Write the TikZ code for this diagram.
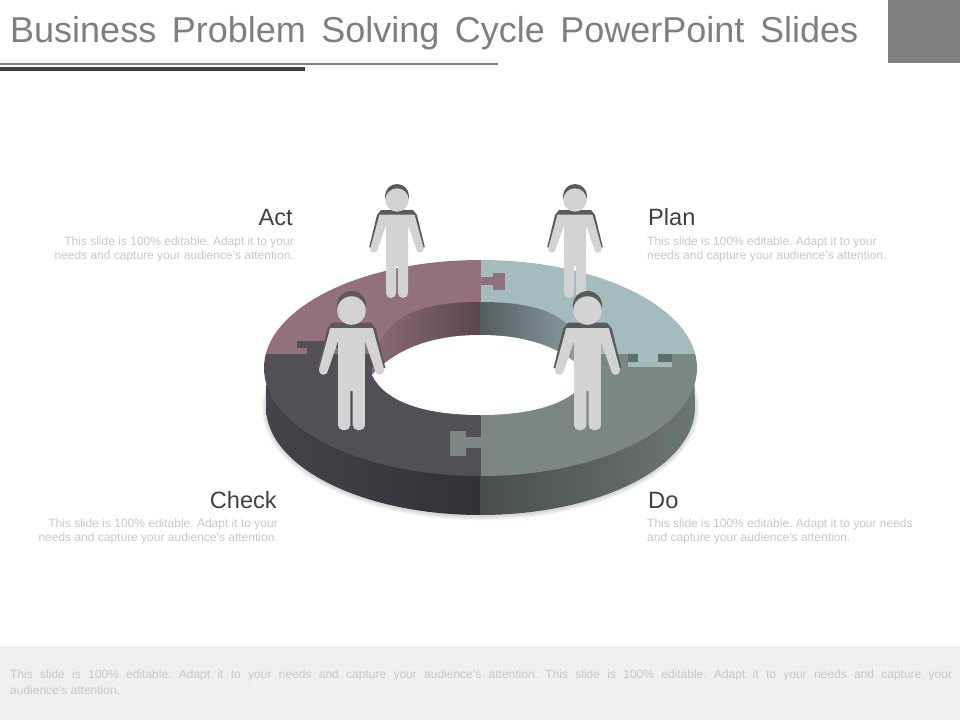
\documentclass[tikz,border=0pt]{standalone}
\usepackage{fontspec}
\setmainfont{Liberation Sans}
\definecolor{titlegrey}{HTML}{7F7F7F}
\definecolor{labelgrey}{HTML}{404040}
\definecolor{smallgrey}{HTML}{C8C8C8}
\definecolor{bandgrey}{HTML}{F0F0F0}
\definecolor{actc}{HTML}{93717A}
\definecolor{planc}{HTML}{A5BCBF}
\definecolor{checkc}{HTML}{524F57}
\definecolor{doc}{HTML}{7B8783}
\definecolor{personc}{HTML}{D3D3D3}
\definecolor{persond}{HTML}{5A5A5A}
\tikzset{
  titletext/.style={anchor=base west,inner sep=0pt,text=titlegrey,font=\fontsize{36}{36}\selectfont},
  labeltext/.style={inner sep=0pt,text=labelgrey,font=\fontsize{23.6}{24}\selectfont},
  smalltext/.style={inner sep=0pt,text=smallgrey,font=\fontsize{12}{12}\selectfont\frenchspacing},
  lightpart/.style={fill=personc,draw=none},
  darkpart/.style={fill=persond,draw=none}
}
\newcommand{\personfig}[3]{%
  \begin{scope}[shift={(#1,#2)},scale=#3]
    \fill[darkpart] (0,12) circle (12);
    \fill[darkpart] (-16,26) -- (16,26) -- (20,31) -- (27.8,63) -- (25,64) -- (17,33) -- (-17,33) -- (-25,64) -- (-27.8,63) -- (-20,31) -- cycle;
    \fill[lightpart] (0,16) circle (11.7);
    \fill[lightpart] (-17.5,30.5) -- (17.5,30.5) -- (26.6,64) -- (19.6,66) -- (11,41) -- (11,82) -- (-11,82) -- (-11,41) -- (-19.6,66) -- (-26.6,64) -- cycle;
    \fill[lightpart] (23,65) circle (3.7);
    \fill[lightpart] (-23,65) circle (3.7);
    \fill[lightpart,rounded corners=4.9] (-11,74) rectangle (-1,114);
    \fill[lightpart,rounded corners=4.9] (1,74) rectangle (11,114);
  \end{scope}}
\begin{document}
\begin{tikzpicture}[x=1pt,y=-1pt]
\useasboundingbox (0,0) rectangle (960,720);
\fill[white] (0,0) rectangle (960,720);
% header
\fill[titlegrey] (888,0) rectangle (960,63);
\fill[titlegrey] (0,63) rectangle (498,64.6);
\fill[labelgrey] (0,67) rectangle (305,71);
\node[titletext] (title) at (10,42.5) {\makebox[848pt][s]{Business Problem Solving Cycle PowerPoint Slides}};
% footer band
\fill[bandgrey] (0,646) rectangle (960,720);
\node[smalltext,anchor=base west] (foot1) at (10,678) {\makebox[942pt][s]{This slide is 100\% editable. Adapt it to your needs and capture your audience's attention. This slide is 100\% editable. Adapt it to your needs and capture your}};
\node[smalltext,anchor=base west] (foot2) at (10,694) {audience's attention.};
% labels
\node[labeltext,anchor=base east] (act) at (293,225) {Act};
\node[smalltext,anchor=base east] (act1) at (294,245) {This slide is 100\% editable. Adapt it to your};
\node[smalltext,anchor=base east] (act2) at (294,259) {needs and capture your audience's attention.};
\node[labeltext,anchor=base west] (plan) at (648,225) {Plan};
\node[smalltext,anchor=base west] (plan1) at (647,245) {This slide is 100\% editable. Adapt it to your};
\node[smalltext,anchor=base west] (plan2) at (647,259) {needs and capture your audience's attention.};
\node[labeltext,anchor=base east] (check) at (277,508) {Check};
\node[smalltext,anchor=base east] (check1) at (278,527) {This slide is 100\% editable. Adapt it to your};
\node[smalltext,anchor=base east] (check2) at (278,541) {needs and capture your audience's attention.};
\node[labeltext,anchor=base west] (do) at (648,508) {Do};
\node[smalltext,anchor=base west] (do1) at (647,527) {This slide is 100\% editable. Adapt it to your needs};
\node[smalltext,anchor=base west] (do2) at (647,541) {and capture your audience's attention.};
% ring shadow
\foreach \g in {4,3,2,1}{
  \fill[black,opacity=0.04] (480.5,408) ellipse [x radius=214+\g*1.2, y radius=107.5+\g*1.2];
}
% side wall
\begin{scope}
  \clip (266.5,385) -- (266,407) arc [start angle=180,delta angle=-90,x radius=214.5,y radius=108] -- (480.5,368) -- cycle;
  \shade[left color=checkc!85!black,right color=checkc!62!black] (260,360) rectangle (480.7,520);
\end{scope}
\begin{scope}
  \clip (694.5,385) -- (695,407) arc [start angle=0,delta angle=90,x radius=214.5,y radius=108] -- (480.5,368) -- cycle;
  \shade[left color=doc!58!black,middle color=doc!78!black,right color=doc!88!black] (480.5,360) rectangle (700,520);
\end{scope}
% top face
\begin{scope}
  \clip (480.5,368) ellipse [x radius=216.5, y radius=108];
  \fill[actc] (260,255) rectangle (480.7,354);
  \fill[planc] (480.5,255) rectangle (700,354);
  \fill[checkc] (260,354) rectangle (480.7,480);
  \fill[doc] (480.5,354) rectangle (700,480);
  % tabs
  \fill[actc] (480,277) rectangle (494,285);
  \fill[actc] (493,273) rectangle (505,290);
  \fill[checkc] (297,341) rectangle (342,347.5);
  \fill[checkc] (307,347) rectangle (332,354.5);
  \fill[doc] (450,431) rectangle (465.5,456);
  \fill[doc] (465,437) rectangle (481,448);
  \fill[doc!80!black] (628,354) rectangle (672,361.5);
  \fill[planc] (638,353) rectangle (658,362.5);
  \fill[planc!104!white] (628,362) rectangle (672,367);
\end{scope}
% inner wall
\begin{scope}
  \clip (372,375) .. controls (376,315) and (420,302) .. (480.7,302) -- (480.7,376) -- cycle;
  \shade[left color=actc!95!black,right color=actc!62!black] (372,295) rectangle (480.7,420);
\end{scope}
\begin{scope}
  \clip (589,375) .. controls (585,315) and (541,302) .. (480.5,302) -- (480.5,376) -- cycle;
  \shade[left color=planc!50!black,right color=planc!88!black] (480.5,295) rectangle (589,420);
\end{scope}
% hole
\fill[white] (372,375) .. controls (395,350) and (430,335) .. (480.5,335)
  .. controls (531,335) and (566,350) .. (589,375)
  .. controls (576,402) and (536,415) .. (480.5,415)
  .. controls (425,415) and (385,402) .. (372,375) -- cycle;
% people
\personfig{397}{184}{1}
\personfig{575}{184}{1}
\personfig{351.5}{291}{1.22}
\personfig{587.5}{291}{1.22}
\end{tikzpicture}
\end{document}
